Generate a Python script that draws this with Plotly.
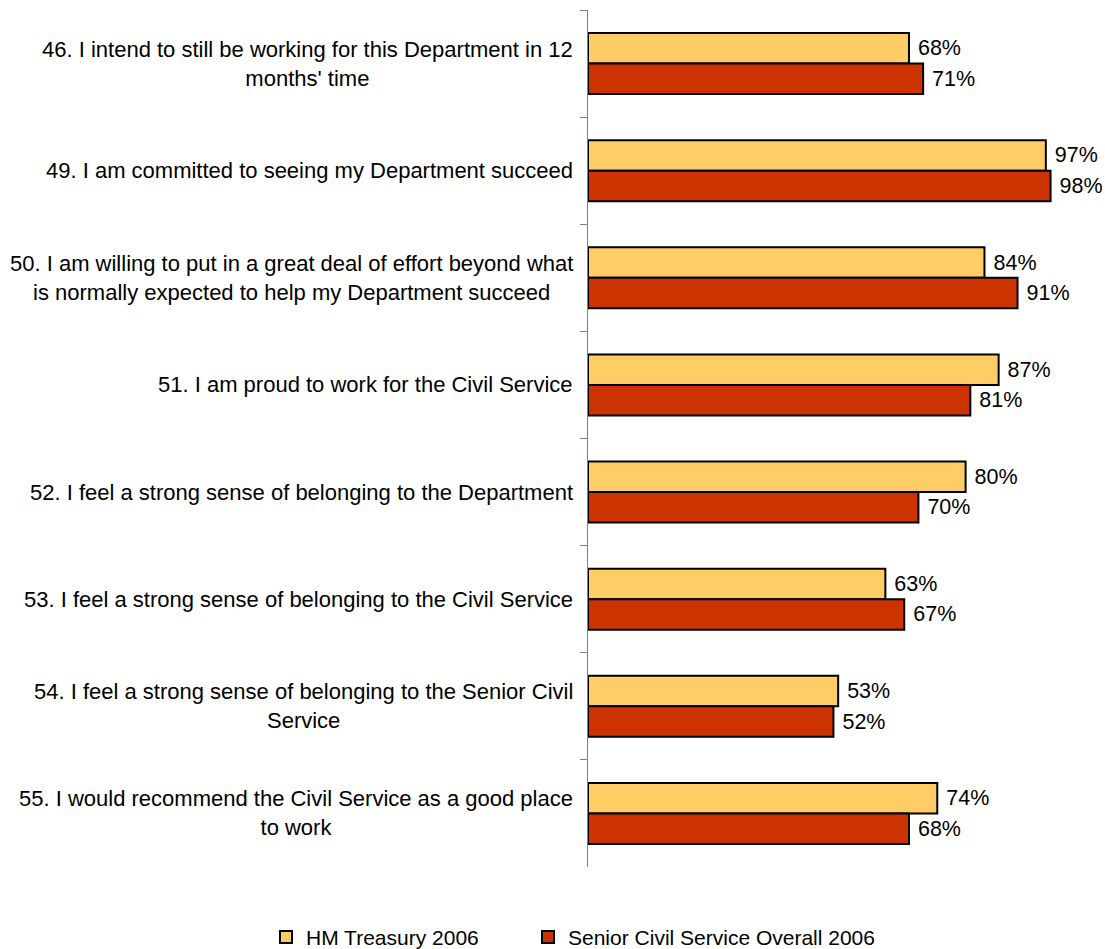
import plotly.graph_objects as go

categories = [
    "46. I intend to still be working for this Department in 12<br>months' time",
    "49. I am committed to seeing my Department succeed",
    "50. I am willing to put in a great deal of effort beyond what<br>is normally expected to help my Department succeed",
    "51. I am proud to work for the Civil Service",
    "52. I feel a strong sense of belonging to the Department",
    "53. I feel a strong sense of belonging to the Civil Service",
    "54. I feel a strong sense of belonging to the Senior Civil<br>Service",
    "55. I would recommend the Civil Service as a good place<br>to work",
]
hm_treasury = [68, 97, 84, 87, 80, 63, 53, 74]
scs_overall = [71, 98, 91, 81, 70, 67, 52, 68]
series_names = ["HM Treasury 2006", "Senior Civil Service Overall 2006"]

FONT = "Liberation Sans, Arial, sans-serif"
keys = [f"c{i}" for i in range(len(categories))]

fig = go.Figure()
for name, vals, color, leg in [
    (series_names[0], hm_treasury, "#FFCC66", "legend"),
    (series_names[1], scs_overall, "#CC3300", "legend2"),
]:
    fig.add_trace(go.Bar(
        name=name, y=keys, x=vals, orientation="h",
        marker=dict(color=color, line=dict(color="black", width=2)),
        text=[f" {v}%" for v in vals], textposition="outside",
        textfont=dict(family=FONT, size=21.5, color="black"),
        cliponaxis=False, legend=leg,
    ))

for k, lab in zip(keys, categories):
    fig.add_annotation(
        x=0, xref="paper", y=k, yref="y", text=lab, showarrow=False,
        xanchor="right", align="center", xshift=-13,
        font=dict(family=FONT, size=22, color="black"),
    )

legend_style = dict(orientation="h", xanchor="left", y=-0.082, yanchor="middle",
                    font=dict(family=FONT, size=21, color="black"),
                    bgcolor="rgba(0,0,0,0)")

fig.update_layout(
    width=1105, height=968,
    paper_bgcolor="white", plot_bgcolor="white",
    margin=dict(l=588, r=45, t=10, b=85),
    barmode="group", bargap=0.43, bargroupgap=0,
    showlegend=True,
    legend=dict(x=-0.6822, **legend_style),
    legend2=dict(x=-0.1271, **legend_style),
    font=dict(family=FONT),
)
fig.update_xaxes(range=[0, 100], visible=False, fixedrange=True)
fig.update_yaxes(autorange="reversed", showticklabels=False, ticks="outside",
                 tickson="boundaries", ticklen=7, tickcolor="#808080",
                 showline=True, linecolor="#808080", linewidth=1, showgrid=False,
                 zeroline=False, fixedrange=True)

fig.write_html(
    "out.html",
    config={"displayModeBar": False},
    post_script="document.body.style.margin='0';document.body.style.overflow='hidden';",
)
